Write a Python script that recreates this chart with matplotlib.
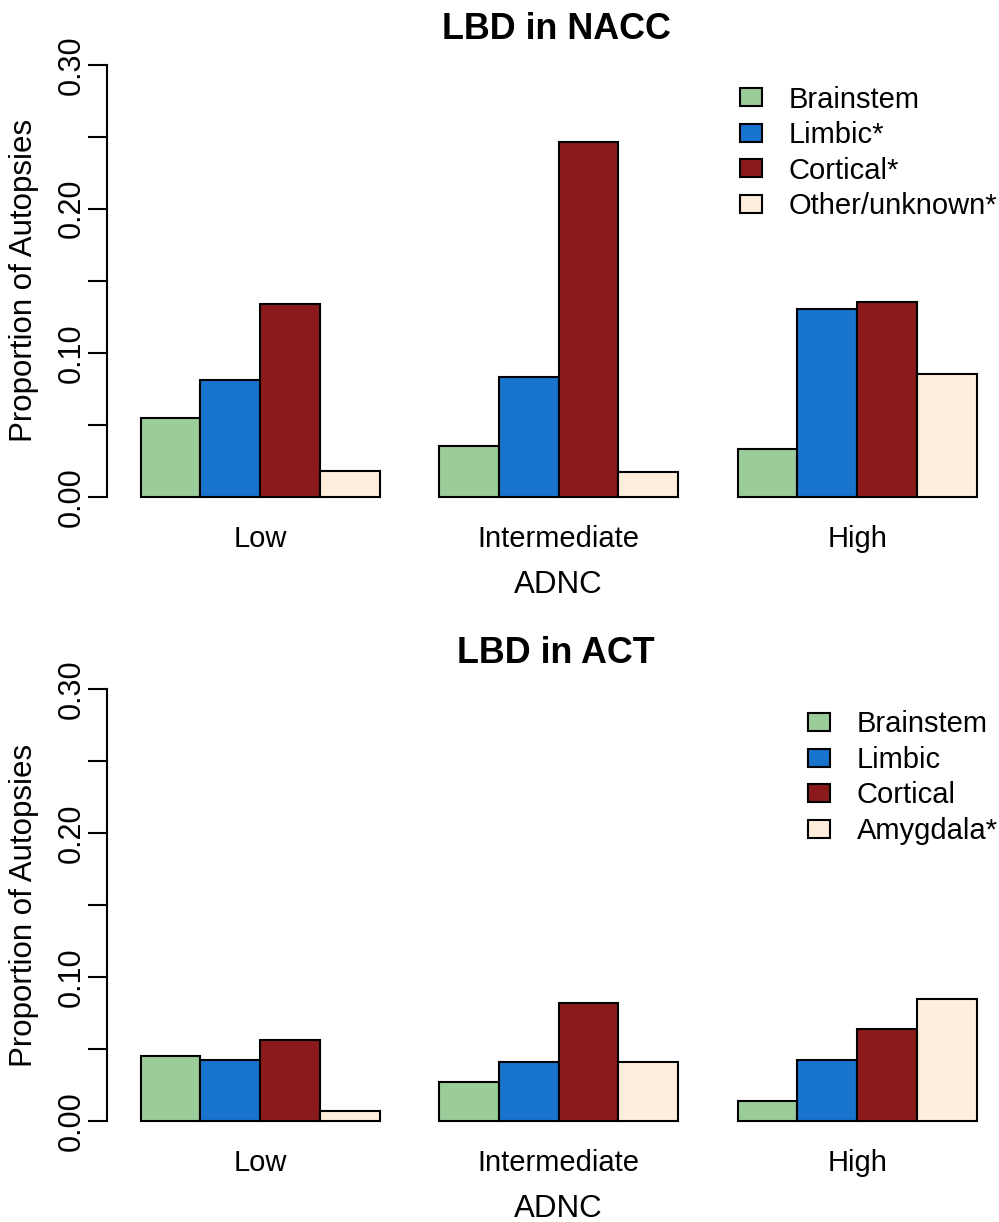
import matplotlib
matplotlib.use("Agg")
import matplotlib.pyplot as plt
import matplotlib.transforms as mtrans
from matplotlib.patches import Patch

plt.rcParams['font.family'] = ['Liberation Sans', 'DejaVu Sans']

# ---- data ----
groups = ["Low", "Intermediate", "High"]
nacc_series = ["Brainstem", "Limbic*", "Cortical*", "Other/unknown*"]
act_series = ["Brainstem", "Limbic", "Cortical", "Amygdala*"]
nacc_brainstem = [0.0544, 0.0350, 0.0331]
nacc_limbic = [0.0810, 0.0829, 0.1306]
nacc_cortical = [0.1338, 0.2463, 0.1350]
nacc_other = [0.0176, 0.0174, 0.0850]
act_brainstem = [0.0454, 0.0273, 0.0141]
act_limbic = [0.0424, 0.0412, 0.0424]
act_cortical = [0.0563, 0.0822, 0.0639]
act_amygdala = [0.0072, 0.0412, 0.0849]
yticks = [0.0, 0.05, 0.10, 0.15, 0.20, 0.25, 0.30]
ytick_labels = ["0.00", "", "0.10", "", "0.20", "", "0.30"]
colors = ["#9BCD9B", "#1874CD", "#8B1A1A", "#FFEEDB"]

W, H = 999, 1222
fig = plt.figure(figsize=(W / 100, H / 100), dpi=100)


def fx(px):
    return px / W


def fy(py):
    return 1 - py / H


ax_left = 107.3
unit = 59.7
ax_w = 15.12 * unit

LEG_FS = 21


def panel(top_px, bot_px, title, series_names, values, leg_left, leg_top):
    ax = fig.add_axes([fx(ax_left), fy(bot_px), ax_w / W, (bot_px - top_px) / H])
    ax.set_xlim(0.44, 15.56)
    ax.set_ylim(0, 0.3)
    for i, vals in enumerate(values):
        xs = [1 + 5 * g + i for g in range(len(groups))]
        ax.bar(xs, vals, width=1.0, align='edge', color=colors[i],
               edgecolor='black', linewidth=1.5, clip_on=False)
    for s in ['top', 'right', 'bottom']:
        ax.spines[s].set_visible(False)
    ax.spines['left'].set_bounds(0, 0.3)
    ax.spines['left'].set_linewidth(1.5)
    ax.set_yticks(yticks)
    ax.set_yticklabels(ytick_labels, rotation=90, va='center', fontsize=22)
    ax.tick_params(axis='y', length=13.7, width=1.5, pad=1)
    ax.set_xticks([])
    ax.patch.set_visible(False)
    trans = mtrans.blended_transform_factory(ax.transData, fig.transFigure)
    for g, name in enumerate(groups):
        xc = 1 + 5 * g + 2
        ax.text(xc, fy(bot_px + 50), name, transform=trans, ha='center',
                va='baseline', fontsize=21)
    fig.text(fx(ax_left + ax_w / 2), fy(bot_px + 96), "ADNC", ha='center',
             va='baseline', fontsize=22.5)
    fig.text(fx(556), fy(top_px - 26), title, ha='center', va='baseline',
             fontsize=25.8, fontweight='bold')
    fig.text(fx(24), fy((top_px + bot_px) / 2), "Proportion of Autopsies",
             rotation=90, ha='center', va='center', fontsize=22.5)
    handles = [Patch(facecolor=c, edgecolor='black', linewidth=1.5) for c in colors]
    ax.legend(handles, series_names, loc='upper left',
              bbox_to_anchor=(fx(leg_left), fy(leg_top)),
              bbox_transform=fig.transFigure, frameon=False,
              fontsize=LEG_FS, handlelength=0.75, handleheight=0.58,
              handletextpad=0.91, labelspacing=0.257, borderpad=0,
              borderaxespad=0)
    return ax


panel(64.7, 496.7, "LBD in NACC", nacc_series,
      [nacc_brainstem, nacc_limbic, nacc_cortical, nacc_other], 740, 85.6)
panel(689, 1121, "LBD in ACT", act_series,
      [act_brainstem, act_limbic, act_cortical, act_amygdala], 808.3, 710.4)

fig.savefig("out.png", dpi=100)
